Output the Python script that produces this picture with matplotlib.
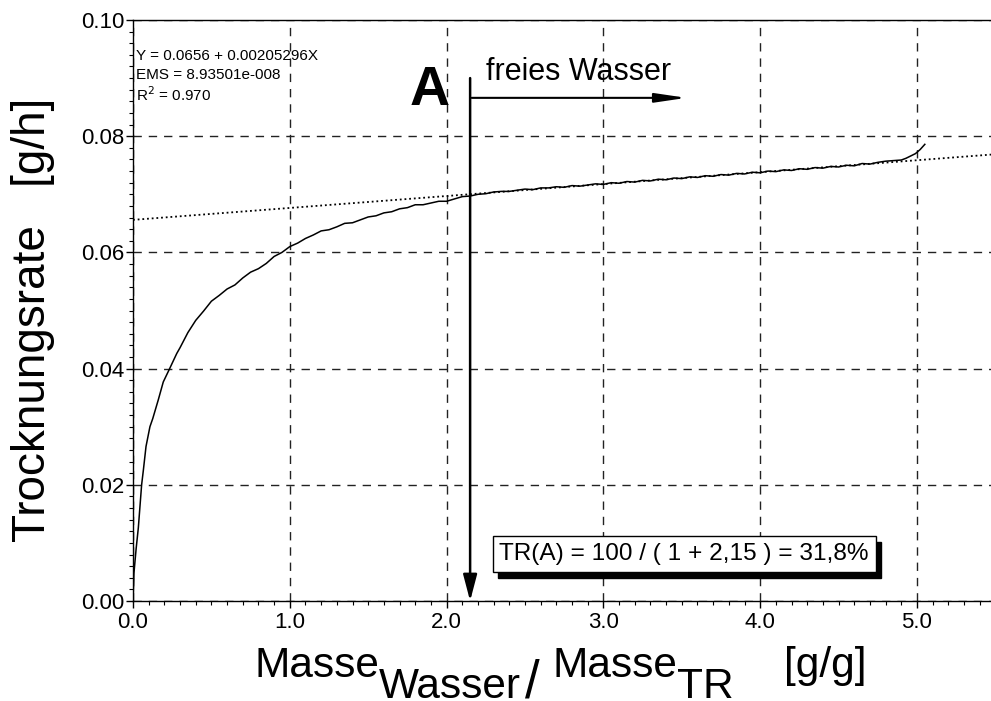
import matplotlib
matplotlib.use("Agg")
import matplotlib.pyplot as plt
import numpy as np
from matplotlib.ticker import MultipleLocator, FormatStrFormatter
from matplotlib.transforms import offset_copy

plt.rcParams['font.family'] = ['Liberation Sans', 'DejaVu Sans']

# Measured drying rate vs. water/dry-mass ratio
moisture = [0.0, 0.006, 0.02, 0.034, 0.055, 0.066, 0.083, 0.108, 0.126, 0.161,
            0.193, 0.232, 0.279,
            0.30, 0.35, 0.40, 0.45, 0.50, 0.55, 0.60, 0.65, 0.70, 0.75, 0.80,
            0.85, 0.90, 0.95, 1.00, 1.05, 1.10, 1.15, 1.20, 1.25, 1.30, 1.35,
            1.40, 1.45, 1.50, 1.55, 1.60, 1.65, 1.70, 1.75, 1.80, 1.85, 1.90,
            1.95, 2.00, 2.05, 2.10, 2.15, 2.20, 2.25, 2.30, 2.35, 2.40, 2.45,
            2.50, 2.55, 2.60, 2.65, 2.70, 2.75, 2.80, 2.85, 2.90, 2.95, 3.00,
            3.05, 3.10, 3.15, 3.20, 3.25, 3.30, 3.35, 3.40, 3.45, 3.50, 3.55,
            3.60, 3.65, 3.70, 3.75, 3.80, 3.85, 3.90, 3.95, 4.00, 4.05, 4.10,
            4.15, 4.20, 4.25, 4.30, 4.35, 4.40, 4.45, 4.50, 4.55, 4.60, 4.65,
            4.70, 4.75, 4.80, 4.85, 4.90, 4.93, 4.96, 4.99, 5.02, 5.05]
rate = [0.0, 0.0048, 0.0090, 0.0126, 0.0200, 0.0225, 0.0266, 0.0300, 0.0314, 0.0346,
        0.0377, 0.0399, 0.0426,
        0.0436, 0.0462, 0.0483, 0.0499, 0.0516, 0.0526, 0.0537, 0.0544, 0.0556, 0.0566, 0.0572,
        0.0581, 0.0593, 0.0600, 0.0610, 0.0616, 0.0624, 0.0630, 0.0637, 0.0639, 0.0644, 0.0650,
        0.0651, 0.0656, 0.0661, 0.0663, 0.0668, 0.0670, 0.0675, 0.0677, 0.0682, 0.0682, 0.0685,
        0.0688, 0.0688, 0.0692, 0.0696, 0.0697, 0.0700, 0.0701, 0.0704, 0.0705, 0.0705, 0.0707,
        0.0709, 0.0708, 0.0711, 0.0711, 0.0713, 0.0712, 0.0715, 0.0714, 0.0716, 0.0718, 0.0717,
        0.0720, 0.0719, 0.0722, 0.0721, 0.0724, 0.0723, 0.0726, 0.0725, 0.0728, 0.0727, 0.0730,
        0.0729, 0.0732, 0.0731, 0.0734, 0.0733, 0.0736, 0.0735, 0.0738, 0.0737, 0.0740, 0.0739,
        0.0742, 0.0741, 0.0744, 0.0743, 0.0746, 0.0745, 0.0748, 0.0747, 0.0750, 0.0749, 0.0753,
        0.0752, 0.0755, 0.0757, 0.0758, 0.0759, 0.0762, 0.0766, 0.0770, 0.0777, 0.0786]

# Linear regression of the constant-rate section
fit_intercept = 0.0656
fit_slope = 0.00205296
fit_text = ["Y = 0.0656 + 0.00205296X", "EMS = 8.93501e-008", "R$^2$ = 0.970"]

# Transition point A
point_a = 2.15
tr_label = "TR(A) = 100 / ( 1 + 2,15 ) = 31,8%"

x_ticks = [0.0, 1.0, 2.0, 3.0, 4.0, 5.0]
y_ticks = [0.00, 0.02, 0.04, 0.06, 0.08, 0.10]

W, H = 991, 701
fig = plt.figure(figsize=(W / 100, H / 100), dpi=100)
ax = fig.add_axes([133 / W, (H - 601) / H, (W - 133) / W, (601 - 20) / H])

xmax = 5.472
ax.set_xlim(0, xmax)
ax.set_ylim(0, 0.10)

# grid and ticks
ax.set_xticks(x_ticks)
ax.set_yticks(y_ticks)
ax.xaxis.set_minor_locator(MultipleLocator(0.1))
ax.yaxis.set_minor_locator(MultipleLocator(0.002))
ax.xaxis.set_major_formatter(FormatStrFormatter('%.1f'))
ax.yaxis.set_major_formatter(FormatStrFormatter('%.2f'))
ax.grid(True, which='major', color='#222222', linestyle=(0, (6, 5)), linewidth=1.0)
ax.set_axisbelow(True)

ax.tick_params(axis='both', which='major', direction='out', length=5, width=1,
               labelsize=16, colors='black')
ax.tick_params(axis='both', which='minor', direction='out', length=3, width=0.8)
ax.tick_params(axis='y', which='major', pad=1)
ax.tick_params(axis='x', which='major', pad=3)
ax.spines['right'].set_visible(False)
for s in ['left', 'bottom', 'top']:
    ax.spines[s].set_linewidth(1.0)

# regression line
xf = np.array([0.0, xmax])
ax.plot(xf, fit_intercept + fit_slope * xf, color='black', linewidth=1.3,
        linestyle=(0, (1, 1.6)))

# measured curve
ax.plot(moisture, rate, color='black', linewidth=1.1)

# regression text
for i, t in enumerate(fit_text):
    ax.text(0.02, 0.0938 - i * 0.0033, t, fontsize=11, ha='left', va='center')

# vertical arrow at point A
ax.annotate('', xy=(point_a, 0.0), xytext=(point_a, 0.090),
            arrowprops=dict(arrowstyle='-|>,head_length=1.6,head_width=0.42',
                            color='black', linewidth=1.8, shrinkA=0, shrinkB=0))
# horizontal arrow "freies Wasser"
ax.annotate('', xy=(3.53, 0.0866), xytext=(point_a + 0.01, 0.0866),
            arrowprops=dict(arrowstyle='-|>,head_length=1.9,head_width=0.28',
                            color='black', linewidth=1.5, shrinkA=0, shrinkB=0))
ax.text(2.02, 0.0877, 'A', fontsize=40, fontweight='bold', ha='right', va='center')
ax.text(2.25, 0.0910, 'freies Wasser', fontsize=22, ha='left', va='center')

# TR(A) box with drop shadow
tr_x, tr_y = 3.515, 0.0081
shadow_tr = offset_copy(ax.transData, fig=fig, x=5, y=-6, units='dots')
ax.text(tr_x, tr_y, tr_label, fontsize=17.6, ha='center', va='center',
        color='black', transform=shadow_tr,
        bbox=dict(boxstyle='square,pad=0.28', facecolor='black', edgecolor='black'))
ax.text(tr_x, tr_y, tr_label, fontsize=17.6, ha='center', va='center',
        color='black',
        bbox=dict(boxstyle='square,pad=0.28', facecolor='white', edgecolor='black',
                  linewidth=1.0))

# axis labels
fig.text(33 / W, 1 - 320 / H, 'Trocknungsrate   [g/h]', rotation=90, fontsize=33,
         ha='center', va='center')
fs = 30.5
fig.text(255 / W, (H - 677) / H, 'Masse', fontsize=fs, ha='left', va='baseline')
fig.text(379 / W, (H - 698) / H, 'Wasser', fontsize=fs, ha='left', va='baseline')
fig.text(525 / W, (H - 697) / H, '/', fontsize=38, ha='left', va='baseline')
fig.text(553 / W, (H - 677) / H, 'Masse', fontsize=fs, ha='left', va='baseline')
fig.text(677 / W, (H - 698) / H, 'TR', fontsize=fs, ha='left', va='baseline')
fig.text(784 / W, (H - 677) / H, '[g/g]', fontsize=fs, ha='left', va='baseline')

fig.savefig('out.png', dpi=100)
